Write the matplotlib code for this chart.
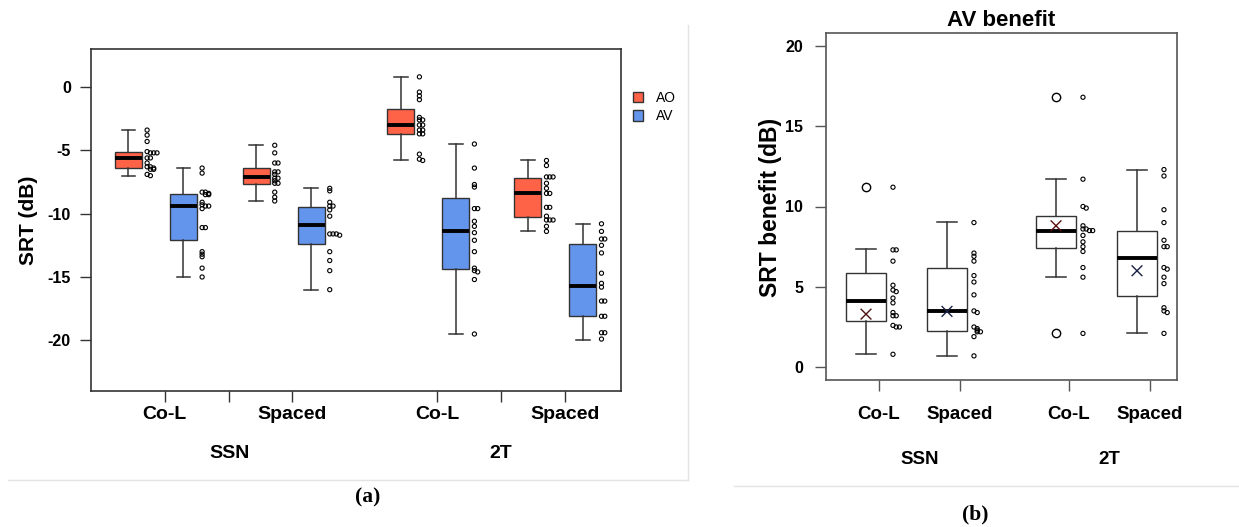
import numpy as np
import matplotlib
matplotlib.use("Agg")
import matplotlib.pyplot as plt
from matplotlib.patches import Patch
from matplotlib.lines import Line2D
from matplotlib.transforms import blended_transform_factory

plt.rcParams["font.family"] = ["Liberation Sans", "DejaVu Sans"]

# --- Data: panel (a) SRT per condition ---
conditions = ["Co-L", "Spaced", "Co-L", "Spaced"]
maskers = ["SSN", "2T"]
modes = ["AO", "AV"]
y_ticks_a = [0, -5, -10, -15, -20]
y_labels_a = ["0", "-5", "-10", "-15", "-20"]

ao_med = [-5.6, -7.1, -3.0, -8.4]
ao_q1 = [-6.4, -7.65, -3.7, -10.3]
ao_q3 = [-5.1, -6.4, -1.75, -7.2]
ao_lo = [-7.0, -9.0, -5.8, -11.4]
ao_hi = [-3.4, -4.6, 0.8, -5.8]

av_med = [-9.4, -10.9, -11.35, -15.7]
av_q1 = [-12.05, -12.4, -14.4, -18.1]
av_q3 = [-8.45, -9.45, -8.8, -12.4]
av_lo = [-15.0, -16.0, -19.5, -19.95]
av_hi = [-6.4, -8.0, -4.5, -10.85]

ao_points = [
    [-3.4, -3.8, -4.3, -5.1, -5.2, -5.2, -5.2, -5.6, -5.6, -6.0, -6.3, -6.3, -6.4, -6.5, -6.5, -6.9, -7.0],
    [-4.6, -5.2, -6.0, -6.0, -6.7, -6.7, -6.9, -7.2, -7.2, -7.4, -7.6, -7.6, -8.3, -8.7, -9.0],
    [0.8, -0.4, -0.7, -1.0, -2.4, -2.6, -2.6, -3.0, -3.0, -3.4, -3.4, -3.7, -3.7, -5.3, -5.7, -5.8],
    [-5.8, -6.2, -7.1, -7.1, -7.1, -7.6, -8.0, -8.4, -8.4, -9.5, -9.5, -10.2, -10.5, -10.5, -10.5, -11.0, -11.4],
]
av_points = [
    [-6.4, -6.8, -8.3, -8.3, -8.4, -8.5, -8.5, -9.1, -9.3, -9.4, -9.4, -9.6, -11.1, -11.1, -13.0, -13.2, -13.4, -14.3, -15.0],
    [-8.0, -8.2, -9.1, -9.4, -9.4, -9.7, -10.2, -11.6, -11.6, -11.6, -11.7, -13.0, -13.7, -14.5, -16.0],
    [-4.5, -6.4, -7.7, -7.9, -9.6, -9.6, -10.6, -11.0, -11.5, -12.1, -13.0, -14.3, -14.5, -14.6, -15.2, -19.5],
    [-10.8, -11.4, -12.0, -12.0, -12.5, -13.1, -14.7, -15.5, -15.8, -16.9, -16.9, -18.1, -18.1, -19.4, -19.4, -19.9],
]

# --- Data: panel (b) AV benefit ---
y_ticks_b = [0, 5, 10, 15, 20]
ben_med = [4.1, 3.47, 8.47, 6.77]
ben_q1 = [2.87, 2.24, 7.39, 4.45]
ben_q3 = [5.86, 6.19, 9.39, 8.5]
ben_lo = [0.8, 0.7, 5.63, 2.14]
ben_hi = [7.35, 9.05, 11.7, 12.3]
ben_mean = [3.3, 3.47, 8.8, 6.0]
ben_out = [[11.2], [], [16.8, 2.1], []]
ben_points = [
    [11.2, 7.3, 7.3, 6.6, 5.1, 4.8, 4.7, 4.3, 4.0, 3.4, 3.2, 3.2, 2.6, 2.5, 2.5, 0.8],
    [9.0, 7.1, 6.9, 6.6, 5.7, 5.3, 4.5, 3.5, 3.4, 2.5, 2.4, 2.3, 2.2, 2.2, 1.9, 0.7],
    [16.8, 11.7, 10.0, 9.9, 8.8, 8.6, 8.6, 8.5, 8.5, 8.2, 7.8, 7.5, 7.2, 6.2, 5.6, 2.1],
    [12.3, 11.9, 9.8, 9.0, 7.9, 7.5, 7.5, 6.2, 6.1, 5.6, 5.2, 3.7, 3.5, 3.4, 2.1],
]

# --- Layout ---
AO_COLOR = "#FF6347"
AV_COLOR = "#6495ED"
EDGE = "#333333"
ao_pos = [0, 2.32, 4.95, 7.26]
av_pos = [p + 1 for p in ao_pos]
ticks_a = [0.66, 1.83, 2.97, 5.61, 6.77, 7.94]
pos_b = [0, 1, 2.346, 3.346]
ticks_b = [0.16, 1.16, 2.506, 3.506]
mean_colors = ["#4a1212", "#1a2244", "#5a1010", "#1a2244"]
narrow = ["Liberation Sans Narrow", "Liberation Sans", "DejaVu Sans"]


def make_stats(med, q1, q3, lo, hi, fliers=None):
    out = []
    for i in range(len(med)):
        out.append(dict(med=med[i], q1=q1[i], q3=q3[i], whislo=lo[i], whishi=hi[i],
                        fliers=fliers[i] if fliers else []))
    return out


def dot_x(values, x0, step):
    # nudge tied values sideways so they stay visible
    xs = []
    for i, v in enumerate(values):
        n = sum(1 for w in values[:i] if abs(w - v) < 0.12)
        xs.append(x0 + n * step)
    return xs


def draw_boxes(ax, stats, positions, color, width, capw, flier_size=6):
    ax.bxp(stats, positions=positions, widths=width, capwidths=capw, patch_artist=True,
           showfliers=True, manage_ticks=False,
           boxprops=dict(facecolor=color, edgecolor=EDGE, linewidth=1.0),
           medianprops=dict(color="black", linewidth=2.8, solid_capstyle="butt"),
           whiskerprops=dict(color=EDGE, linewidth=1.1),
           capprops=dict(color=EDGE, linewidth=1.1),
           flierprops=dict(marker="o", markerfacecolor="none", markeredgecolor="black",
                           markersize=flier_size, markeredgewidth=1.0))


fig = plt.figure(figsize=(12.39, 5.27), dpi=100)
W, H = 1239, 527

# --- Panel (a) ---
ax = fig.add_axes([91 / W, 1 - 391 / H, 530 / W, 342 / H])
draw_boxes(ax, make_stats(ao_med, ao_q1, ao_q3, ao_lo, ao_hi), ao_pos, AO_COLOR, 0.49, 0.25)
draw_boxes(ax, make_stats(av_med, av_q1, av_q3, av_lo, av_hi), av_pos, AV_COLOR, 0.49, 0.25)
for pts_list, positions in [(ao_points, ao_pos), (av_points, av_pos)]:
    for pts, p in zip(pts_list, positions):
        ax.scatter(dot_x(pts, p + 0.34, 0.06), pts, s=9, facecolors="none",
                   edgecolors="black", linewidths=0.8, zorder=3)

ax.set_xlim(-0.68, 8.955)
ax.set_ylim(-24, 3)
ax.set_yticks(y_ticks_a)
ax.set_yticklabels(y_labels_a, fontsize=11.5, fontweight="bold")
ax.set_xticks(ticks_a)
ax.set_xticklabels([conditions[0], "", conditions[1], conditions[2], "", conditions[3]],
                   fontsize=14, fontweight="bold", family=narrow)
ax.tick_params(axis="both", length=8, width=1.0, color=EDGE)
ax.tick_params(axis="y", pad=6.5)
ax.tick_params(axis="x", pad=2.5)
for sp in ax.spines.values():
    sp.set_color(EDGE)
    sp.set_linewidth(1.2)

trans = blended_transform_factory(ax.transData, fig.transFigure)
for name, xp in zip(maskers, [ticks_a[1], ticks_a[4]]):
    ax.text(xp, 1 - 453 / H, name, transform=trans, ha="center", va="center",
            fontsize=14, fontweight="bold", family=narrow)
fig.text(28 / W, 1 - 220 / H, "SRT (dB)", rotation=90, ha="center", va="center",
         fontsize=15, fontweight="bold")

handles = [Patch(facecolor=AO_COLOR, edgecolor=EDGE, linewidth=1.0),
           Patch(facecolor=AV_COLOR, edgecolor=EDGE, linewidth=1.0)]
fig.legend(handles, modes, loc="upper left", bbox_to_anchor=(627 / W, 1 - 85 / H),
           frameon=False, fontsize=10, handlelength=0.75, handleheight=0.75,
           labelspacing=0.35, handletextpad=0.9, borderaxespad=0)

# --- Panel (b) ---
bx = fig.add_axes([826 / W, 1 - 380 / H, 351 / W, 347 / H])
draw_boxes(bx, make_stats(ben_med, ben_q1, ben_q3, ben_lo, ben_hi, ben_out), pos_b,
           "white", 0.494, 0.247, flier_size=6)
for pts, p in zip(ben_points, pos_b):
    bx.scatter(dot_x(pts, p + 0.333, 0.04), pts, s=9, facecolors="none",
               edgecolors="black", linewidths=0.8, zorder=3)
bx.scatter(pos_b, ben_mean, marker="x", s=60, c=mean_colors, linewidths=1.0, zorder=4)

bx.set_xlim(-0.494, 3.84)
bx.set_ylim(-0.8, 20.8)
bx.set_yticks(y_ticks_b)
bx.set_yticklabels([str(t) for t in y_ticks_b], fontsize=11.5, fontweight="bold")
bx.set_xticks(ticks_b)
bx.set_xticklabels(conditions, fontsize=13.5, fontweight="bold")
bx.tick_params(axis="both", length=8, width=1.0, color="#555555")
bx.tick_params(axis="y", pad=8.5)
bx.tick_params(axis="x", pad=11)
for sp in bx.spines.values():
    sp.set_color("#555555")
    sp.set_linewidth(1.2)
bx.set_title("AV benefit", fontsize=16, fontweight="bold", pad=5)

trans_b = blended_transform_factory(bx.transData, fig.transFigure)
for name, xp in zip(maskers, [0.66, 3.0]):
    bx.text(xp, 1 - 459 / H, name, transform=trans_b, ha="center", va="center",
            fontsize=13.5, fontweight="bold")
fig.text(770 / W, 1 - 207 / H, "SRT benefit (dB)", rotation=90, ha="center", va="center",
         fontsize=16.5, fontweight="bold")

# --- Panel borders and captions ---
fig.add_artist(Line2D([688 / W, 688 / W], [1 - 25 / H, 1 - 480 / H], color="#e3e3e3", lw=1))
fig.add_artist(Line2D([8 / W, 688 / W], [1 - 480 / H, 1 - 480 / H], color="#e3e3e3", lw=1))
fig.add_artist(Line2D([734 / W, 1.0], [1 - 486 / H, 1 - 486 / H], color="#e3e3e3", lw=1))
fig.text(368 / W, 1 - 497 / H, "(a)", ha="center", va="center", fontsize=15.5,
         fontweight="bold", family=["Liberation Serif", "DejaVu Serif"])
fig.text(975 / W, 1 - 514 / H, "(b)", ha="center", va="center", fontsize=15.5,
         fontweight="bold", family=["Liberation Serif", "DejaVu Serif"])

fig.savefig("out.png", dpi=100)
plt.close(fig)
